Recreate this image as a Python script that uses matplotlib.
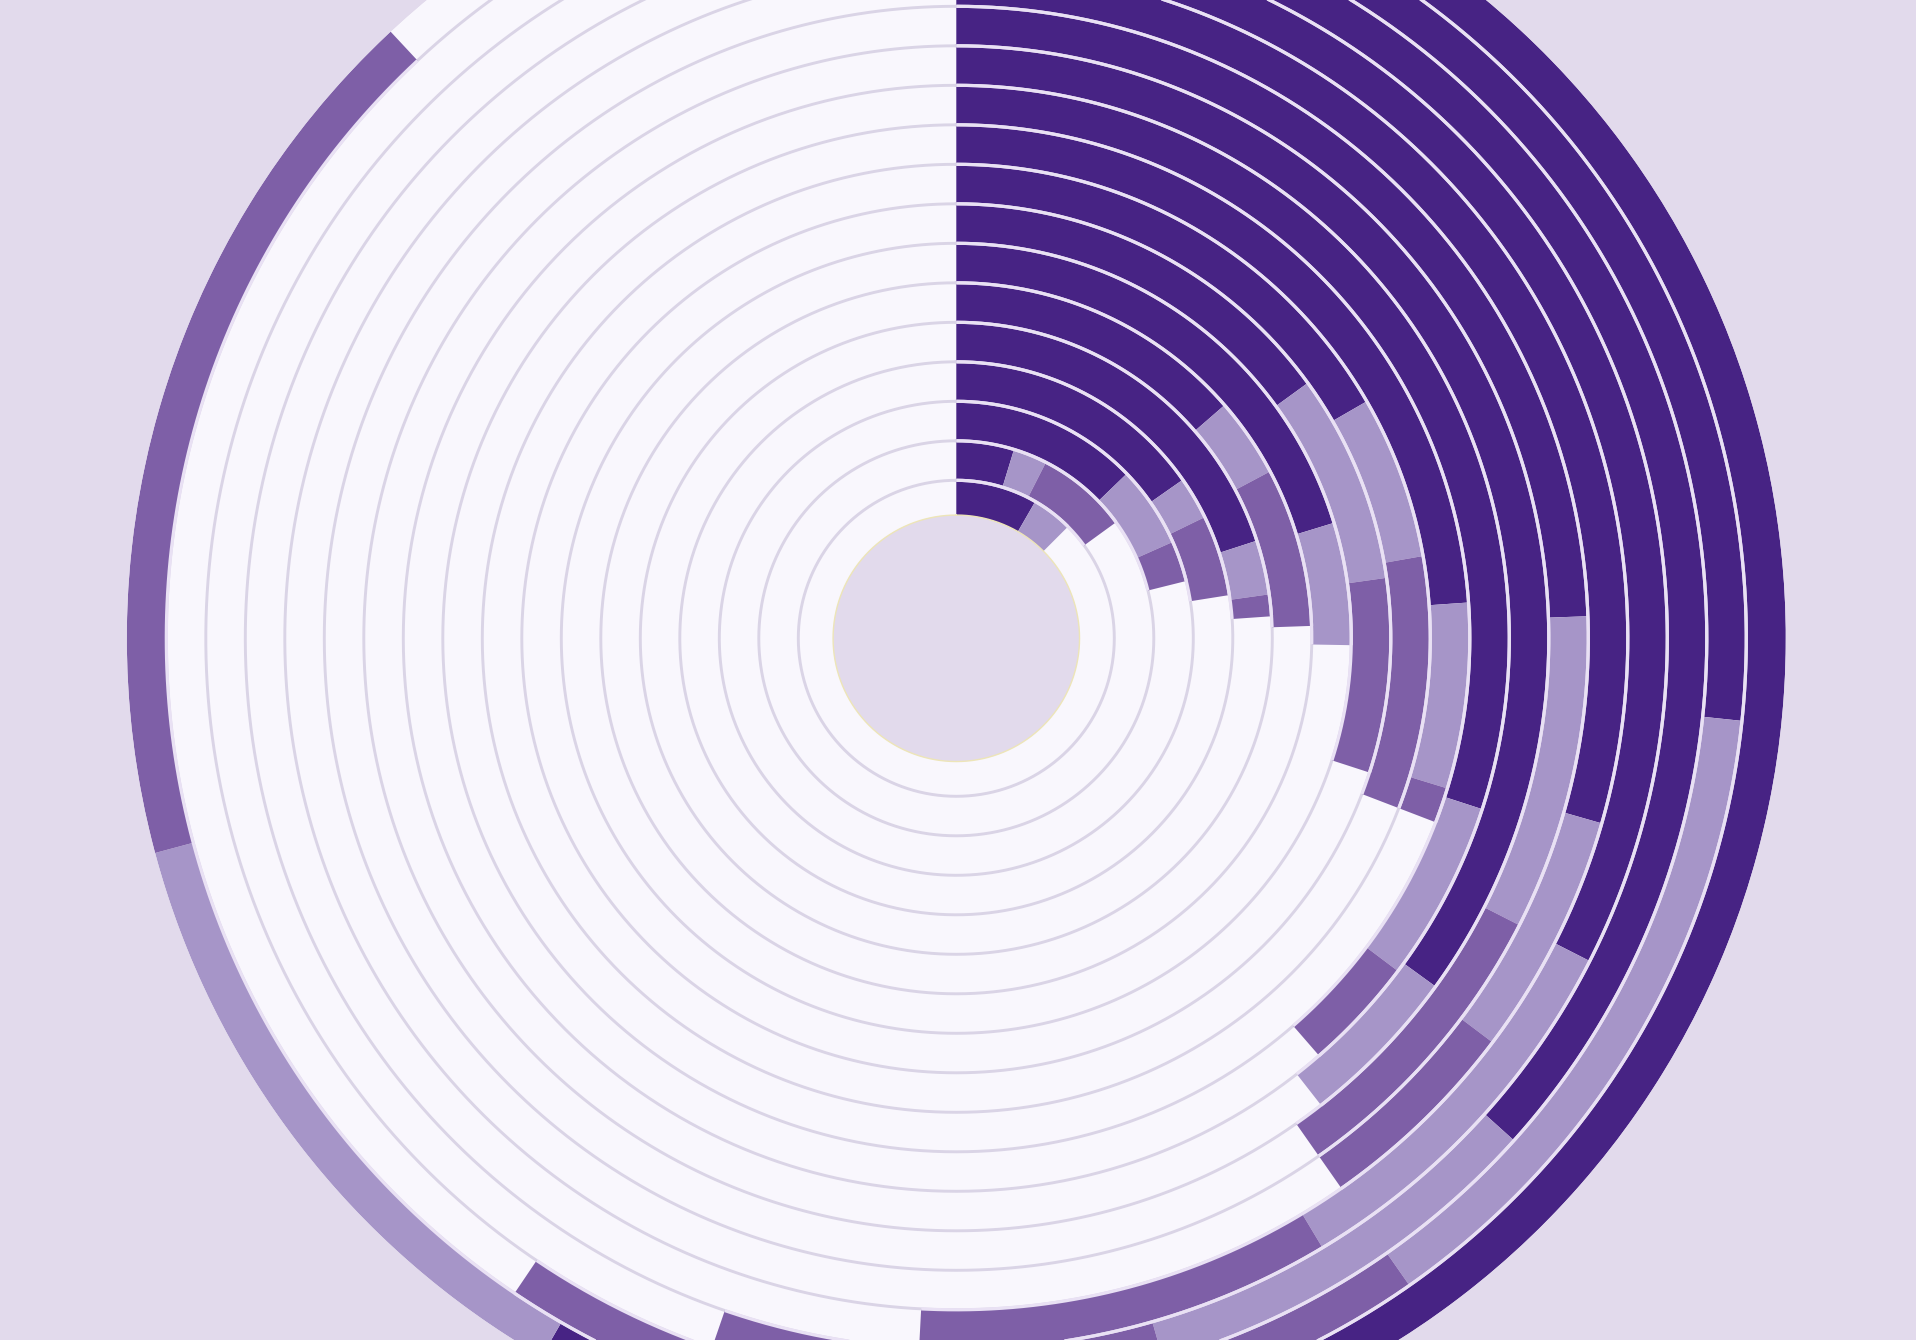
"""Radial stacked bars: 18 concentric rings, three shares stacked clockwise from 12 o'clock."""

import numpy as np
import matplotlib
matplotlib.use("Agg")
import matplotlib.pyplot as plt

# one entry per ring, innermost first; arc sizes in degrees
rings = list(range(1, 19))
dark_deg = [30, 17, 46, 55, 72, 49, 73, 54, 60, 86, 108, 126, 88, 106, 117, 132, 96, 210]
light_deg = [15, 10, 20, 9, 10, 13, 18, 28, 20, 21, 19, 16, 29, 21, 32, 32, 49, 45]
medium_deg = [0, 27, 10, 17, 4, 26, 0, 26, 31, 4, 12, 0, 28, 18, 34, 35, 69, 62]

BG = "#E2DAEC"
TRACK = "#F9F7FD"
TRACK_LINE = "#DAD4E6"
BAR_LINE = "#E9E1F4"
HOLE_LINE = "#EDE5B8"
COLORS = {"dark": "#472384", "light": "#A695C8", "medium": "#7E5FA7"}

W, H = 1916, 1340
cx, cy = 956.3, 638.3   # centre of the rings in pixels (from top-left)
R = 829.5               # outer radius in pixels
RMAX = 21.0
INNER0 = 3.0
HOLE = 3.12


def main() -> None:
    fig = plt.figure(figsize=(W / 100, H / 100), dpi=100, facecolor=BG)
    ax = fig.add_axes(
        [(cx - R) / W, (H - cy - R) / H, 2 * R / W, 2 * R / H],
        projection="polar",
    )
    ax.set_theta_zero_location("N")
    ax.set_theta_direction(-1)
    ax.set_ylim(0, RMAX)
    ax.set_axis_off()

    full = np.linspace(0, 2 * np.pi, 1441)

    # background tracks
    for i in range(len(rings)):
        ax.bar(0, 1, width=2 * np.pi, bottom=INNER0 + i, align="edge",
               color=TRACK, linewidth=0, zorder=1)
    for r in np.arange(INNER0 + 1, INNER0 + len(rings)):
        ax.plot(full, np.full_like(full, r), color=TRACK_LINE, lw=2.1, zorder=2)

    # stacked segments
    for i in range(len(rings)):
        base = INNER0 + i
        start = 0.0
        for name, vals in (("dark", dark_deg), ("light", light_deg), ("medium", medium_deg)):
            v = vals[i]
            if v > 0:
                ax.bar(np.deg2rad(start), 1, width=np.deg2rad(v), bottom=base,
                       align="edge", color=COLORS[name], linewidth=0, zorder=3)
            start += v
        arc = np.linspace(0, np.deg2rad(start), 400)
        for r in (base, base + 1):
            if INNER0 + 0.5 < r < RMAX - 0.5:
                ax.plot(arc, np.full_like(arc, r), color=BAR_LINE, lw=2.3,
                        solid_capstyle="butt", zorder=4)

    # centre hole
    ax.fill(full, np.full_like(full, HOLE), color=BG, linewidth=0, zorder=5)
    ax.plot(full, np.full_like(full, HOLE), color=HOLE_LINE, lw=1.0, zorder=6)

    fig.savefig("out.png", dpi=100, facecolor=BG)
    plt.close(fig)


if __name__ == "__main__":
    main()
